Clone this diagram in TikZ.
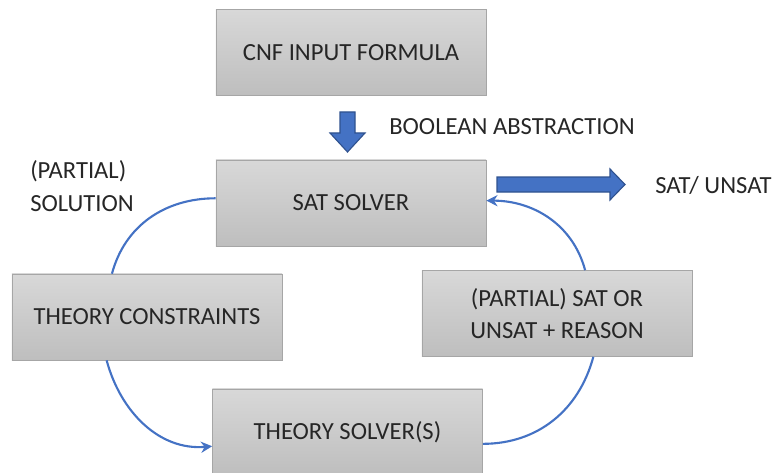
\documentclass[tikz,border=0pt]{standalone}
\usepackage{fontspec}
\setmainfont{Carlito}
\usetikzlibrary{arrows.meta}
\definecolor{boxtop}{RGB}{216,216,216}
\definecolor{boxbottom}{RGB}{190,190,190}
\definecolor{boxline}{RGB}{166,166,166}
\definecolor{loopblue}{RGB}{68,114,196}
\definecolor{loopdark}{RGB}{47,82,143}
\definecolor{inktext}{RGB}{38,38,38}

\begin{document}
\begin{tikzpicture}[x = 0.025cm, y = -0.025cm,
  every node/.style = {font = \fontsize{17.5}{23}\selectfont, text = inktext},
  box/.style = {draw = boxline, top color = boxtop, bottom color = boxbottom,
    minimum width = 6.75cm, minimum height = 2.15cm, align = center},
  tag/.style = {inner sep = 0pt},
  loop/.style = {draw = loopblue, line width = 1.5pt},
  blockarrow/.style = {fill = loopblue, draw = loopdark, line width = 0.8pt}]
\useasboundingbox (0,0) rectangle (780,472);
% boxes
\node [box] (cnf) at (351,52.5) {CNF INPUT FORMULA};
\node [box] (sat) at (351,203) {SAT SOLVER};
\node [box] (cons) at (147,317) {THEORY CONSTRAINTS};
\node [box] (reason) at (557,313.5) {(PARTIAL) SAT OR\\UNSAT + REASON};
\node [box] (tsolver) at (347.5,432) {THEORY SOLVER(S)};
% free labels
\node [tag, anchor = west] (abstr) at (389,127) {BOOLEAN ABSTRACTION};
\node [tag, anchor = west] (result) at (655,185) {SAT/ UNSAT};
\node [tag, anchor = west, align = left] (partial) at (30,186) {(PARTIAL)\\SOLUTION};
% block arrows
\draw [blockarrow] (340,112) -- (355,112) -- (355,133) -- (365,133) -- (347.5,152)
  -- (330,133) -- (340,133) -- cycle;
\draw [blockarrow] (497,177) -- (610,177) -- (610,169) -- (625,184.5) -- (610,200)
  -- (610,192) -- (497,192) -- cycle;
% the loop
\draw [loop] (sat.178) to [out = 180, in = 75] (cons.129);
\draw [loop, -{Stealth[length = 8pt, width = 8pt]}] (cons.227) to [out = -75, in = 185] (tsolver.186);
\draw [loop] (tsolver.-5) to [out = 0, in = -105] (reason.310);
\draw [loop, -{Stealth[length = 8pt, width = 8pt]}] (reason.57) to [out = 105, in = 0] (sat.1);
\end{tikzpicture}
\end{document}
